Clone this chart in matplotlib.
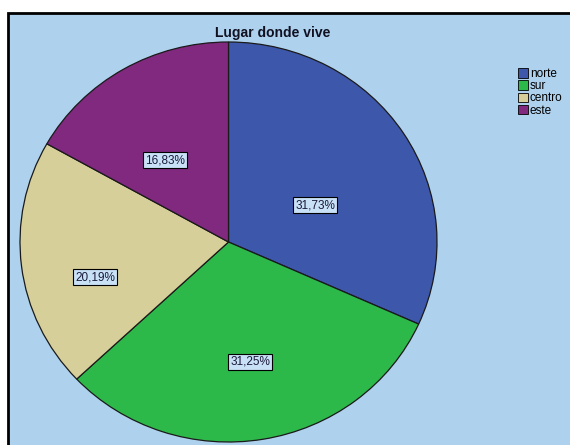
import matplotlib
matplotlib.use('Agg')
import matplotlib.pyplot as plt
from matplotlib.patches import Rectangle, Patch

plt.rcParams['font.family'] = ['Liberation Sans', 'DejaVu Sans']

# share of respondents by area
zonas = ['norte', 'sur', 'centro', 'este']
porcentajes = [31.73, 31.25, 20.19, 16.83]
colores = ['#3d57ab', '#2db84a', '#d6cf9a', '#80297f']

# where each percentage box sits, in pie units
label_xy = [(0.415, 0.185), (0.104, -0.60), (-0.64, -0.175), (-0.305, 0.41)]

W, H = 570, 445
fig = plt.figure(figsize=(W / 100, H / 100), dpi=100)
fig.patch.set_facecolor('white')

# light blue chart panel with a dark frame
fig.patches.append(Rectangle((8 / W, -0.05), 1.0, 1.05 - 13 / H, transform=fig.transFigure,
                             facecolor='#aed1ee', edgecolor='black', linewidth=2, zorder=0))

fig.text(273 / W, 1 - 33 / H, 'Lugar donde vive', ha='center', va='center',
         fontsize=10, fontweight='bold', color='#111122')

# pie axes: slightly squashed ellipse
cx, cy, rx, ry = 228.5, 242, 208.5, 200
ax = fig.add_axes([(cx - rx) / W, 1 - (cy + ry) / H, 2 * rx / W, 2 * ry / H])
ax.set_zorder(2)

ax.pie(porcentajes, colors=colores, startangle=90, counterclock=False, radius=1,
       wedgeprops=dict(edgecolor='#1a1a1a', linewidth=0.9))
ax.set_xlim(-1, 1)
ax.set_ylim(-1, 1)
ax.set_aspect('auto')
ax.axis('off')

for pct, (x, y) in zip(porcentajes, label_xy):
    txt = f'{pct:.2f}%'.replace('.', ',')
    ax.text(x, y, txt, ha='center', va='center', fontsize=8.5, color='#1a1a3a',
            bbox=dict(boxstyle='square,pad=0.18', facecolor='#c9e1f7',
                      edgecolor='black', linewidth=0.8))

handles = [Patch(facecolor=c, edgecolor='black', linewidth=0.6) for c in colores]
leg = fig.legend(handles, zonas, loc='upper left', bbox_to_anchor=(518 / W, 1 - 68 / H),
                 frameon=False, fontsize=8.5, handlelength=0.85, handleheight=0.85,
                 handletextpad=0.15, labelspacing=0.02, borderpad=0, borderaxespad=0)
leg.set_zorder(3)

fig.savefig('out.png', dpi=100, facecolor=fig.get_facecolor())
